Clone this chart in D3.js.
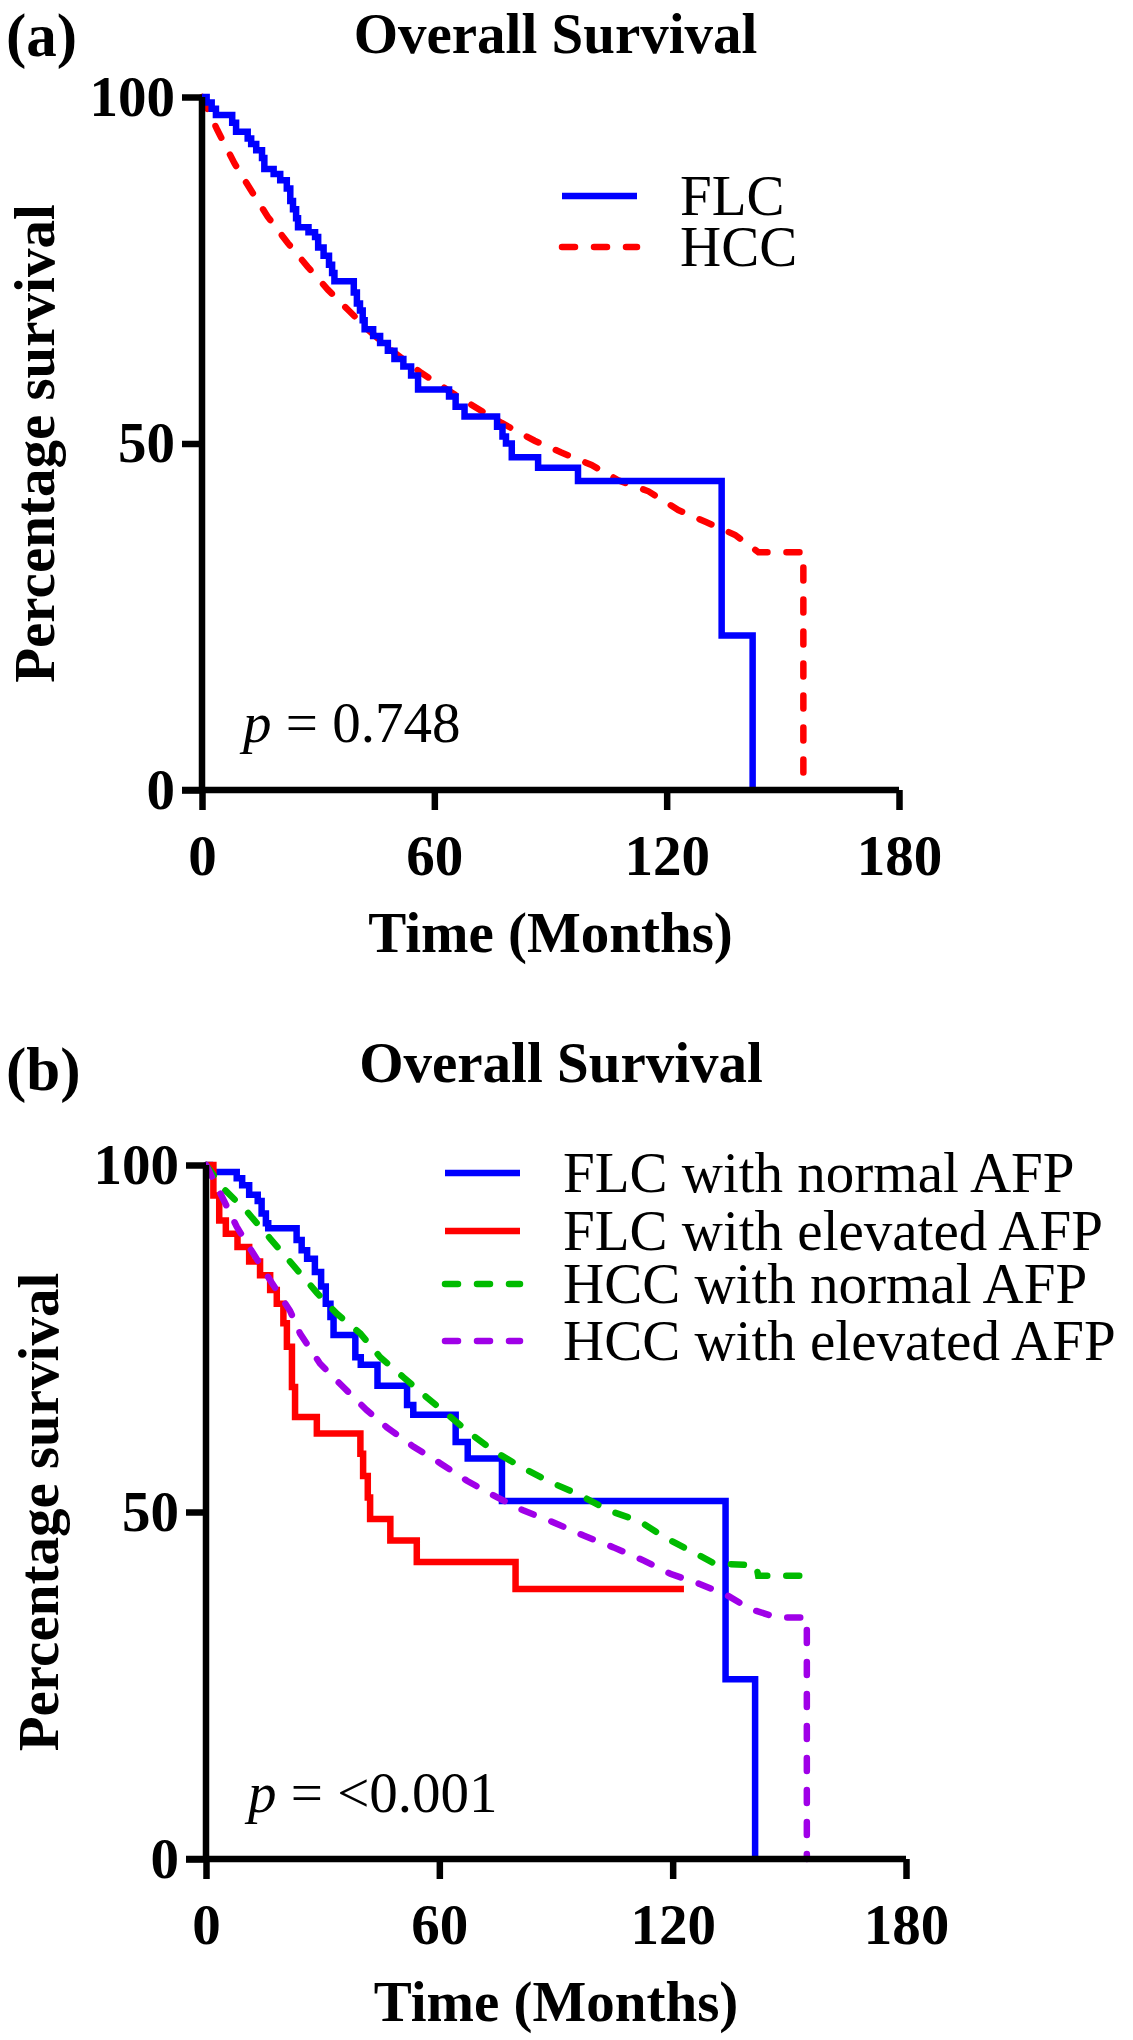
<!DOCTYPE html>
<html>
<head>
<meta charset="utf-8">
<script src="https://cdn.jsdelivr.net/npm/d3@7"></script>
<style>
  html, body { margin: 0; padding: 0; background: #fff; }
  svg { display: block; }
  text { font-family: "Liberation Serif", "Times New Roman", serif; fill: #000; }
</style>
</head>
<body>
<svg id="chart" width="1133" height="2040"></svg>
<script>
// ---------- data ----------
const monthTicks = [0, 60, 120, 180];
const pctTicks = [0, 50, 100];

// Panel (a)
const aNames = ["FLC", "HCC"];
const aPValue = "0.748";
// FLC: Kaplan-Meier step times (months) and survival (%) after each drop
const aFLC_t = [0, 1.2, 2.5, 3.6, 7.8, 8.8, 11.8, 12.7, 14.0, 15.5, 16.1, 18.5, 20.2, 21.9, 22.8, 23.5, 24.3, 24.8, 27.5, 29.2, 30.0, 31.4, 32.8, 33.6, 34.2, 39.2, 40.0, 40.8, 41.5, 42.0, 44.2, 46.0, 48.0, 49.7, 52.0, 54.0, 55.8, 63.8, 65.5, 67.8, 76.2, 77.6, 78.5, 80.0, 86.8, 97.1, 134.2, 142.2];
const aFLC_s = [100, 99.2, 98.3, 97.4, 96.3, 95.0, 94.0, 93.2, 92.3, 91.2, 89.6, 88.9, 88.0, 86.8, 85.0, 83.8, 82.5, 81.2, 80.5, 79.8, 78.3, 77.1, 75.8, 74.6, 73.4, 71.8, 70.2, 69.2, 67.8, 66.5, 65.5, 64.5, 63.4, 62.2, 61.1, 59.8, 57.8, 56.8, 55.3, 53.9, 52.4, 51.0, 50.0, 48.0, 46.5, 44.6, 22.3, 0];
// HCC: points along the (dense-step) curve
const aHCC_t = [0, 4, 8.4, 12.7, 17, 22.2, 27.3, 32.5, 37.7, 42.9, 49.7, 56.6, 63.5, 70.4, 77.3, 85.9, 92.8, 100.6, 107.5, 115.3, 123, 130, 137.7, 143.7, 155.3, 155.3];
const aHCC_s = [100, 95.2, 90.4, 86.5, 82.7, 78.9, 75.5, 72.2, 69.3, 66.4, 63.1, 60.2, 57.7, 55.3, 53.0, 50.4, 48.7, 46.9, 44.7, 43.1, 40.4, 38.7, 36.8, 34.3, 34.3, 0];

// Panel (b)
const bNames = ["FLC with normal AFP", "FLC with elevated AFP", "HCC with normal AFP", "HCC with elevated AFP"];
const bPValue = "<0.001";
const bFLCn_t = [0, 1.0, 7.9, 9.3, 11.1, 13.3, 14.3, 15.4, 16.0, 23.3, 24.6, 26.0, 28.0, 29.6, 30.8, 32.0, 32.8, 38.4, 39.8, 44.1, 51.7, 53.3, 64.2, 67.3, 76.1, 133.6, 141.2];
const bFLCn_s = [100, 99.0, 98.1, 97.1, 95.7, 94.8, 93.0, 91.6, 90.9, 89.2, 87.7, 86.5, 84.6, 82.5, 80.0, 78.1, 75.5, 72.3, 71.2, 68.2, 65.4, 64.0, 60.1, 57.7, 51.6, 25.9, 0];
const bFLCe_t = [0, 1.9, 3.4, 5.1, 8.1, 11.1, 13.9, 16.5, 18.2, 19.9, 20.8, 22.1, 22.9, 28.5, 39.7, 40.4, 41.6, 42.2, 47.4, 54.2, 79.6, 122.9];
const bFLCe_s = [100, 95.6, 92.0, 90.1, 88.2, 86.1, 84.1, 82.0, 80.0, 77.2, 73.8, 68.0, 63.7, 61.3, 58.4, 55.2, 52.1, 49.0, 45.9, 42.8, 38.9, 38.9];
const bHCCn_t = [0, 4.5, 10.5, 16.5, 22.5, 28.5, 33.6, 39.7, 44.8, 50.8, 56.8, 62, 68, 74, 81, 88.6, 96.3, 103.6, 111.4, 117.8, 124.6, 130.7, 141.5, 142, 153];
const bHCCn_s = [100, 96.6, 93.3, 89.4, 85.5, 81.6, 78.6, 75.7, 72.3, 69.4, 66.5, 64.1, 61.3, 58.8, 56.5, 54.3, 52.4, 50.2, 48.7, 46.4, 44.4, 42.6, 42.3, 40.8, 40.8];
const bHCCe_t = [0, 4.5, 7.9, 12.2, 16.5, 21.6, 24.2, 29.3, 35.3, 41.3, 46.5, 53.4, 60.3, 67.1, 74.9, 81.7, 89.4, 97.1, 104.8, 112.6, 119.4, 127.1, 134, 140, 146.9, 154.5, 154.5];
const bHCCe_s = [100, 95, 91.1, 87.2, 83.4, 79, 75.7, 71.4, 68, 64.7, 62.2, 59.4, 57, 54.5, 52.1, 50.2, 48.5, 46.6, 44.9, 43, 41.1, 39.6, 38, 36, 34.8, 34.8, 0];

// ---------- drawing ----------
const svg = d3.select("#chart");
svg.append("rect").attr("width", 1133).attr("height", 2040).attr("fill", "#fff");

const FS = 57;
const LW = 6.5;
const DASH = "13,19";

function zip(t, s) { return t.map((v, i) => [v, s[i]]); }

const panels = [
  {
    letter: "(a)", letterY: 56, titleY: 53,
    x0: 202, x1: 899, y0: 790, y1: 97,
    pText: aPValue, pX: 243, pY: 742,
    legendLineX: [562, 637], legendTextX: 680, legendBase: [215, 266],
    series: [
      { name: aNames[1], data: zip(aHCC_t, aHCC_s), color: "#ff0000", dashed: true, step: false },
      { name: aNames[0], data: zip(aFLC_t, aFLC_s), color: "#0000ff", dashed: false, step: true }
    ],
    legendOrder: [1, 0]
  },
  {
    letter: "(b)", letterY: 1090, titleY: 1082,
    x0: 206, x1: 906, y0: 1859, y1: 1165,
    pText: bPValue, pX: 248, pY: 1812,
    legendLineX: [445, 520], legendTextX: 563, legendBase: [1192, 1250, 1303, 1360],
    series: [
      { name: bNames[0], data: zip(bFLCn_t, bFLCn_s), color: "#0000ff", dashed: false, step: true },
      { name: bNames[1], data: zip(bFLCe_t, bFLCe_s), color: "#ff0000", dashed: false, step: true },
      { name: bNames[2], data: zip(bHCCn_t, bHCCn_s), color: "#00bb00", dashed: true, step: false },
      { name: bNames[3], data: zip(bHCCe_t, bHCCe_s), color: "#a000e8", dashed: true, step: false }
    ],
    legendOrder: [0, 1, 2, 3]
  }
];

panels.forEach(p => {
  const x = d3.scaleLinear().domain([0, 180]).range([p.x0, p.x1]);
  const y = d3.scaleLinear().domain([0, 100]).range([p.y0, p.y1]);
  const g = svg.append("g");

  // letter + title
  g.append("text").attr("x", 6).attr("y", p.letterY)
    .attr("font-size", 61).attr("font-weight", "bold").text(p.letter);
  g.append("text").attr("x", (p.x0 + p.x1) / 2 + 5).attr("y", p.titleY)
    .attr("text-anchor", "middle").attr("font-size", FS).attr("font-weight", "bold")
    .text("Overall Survival");

  // curves
  p.series.forEach(s => {
    const line = d3.line().x(d => x(d[0])).y(d => y(d[1]))
      .curve(s.step ? d3.curveStepAfter : d3.curveLinear);
    g.append("path").datum(s.data).attr("d", line)
      .attr("fill", "none").attr("stroke", s.color).attr("stroke-width", LW)
      .attr("stroke-linejoin", "miter")
      .attr("stroke-linecap", s.dashed ? "round" : "butt")
      .attr("stroke-dasharray", s.dashed ? DASH : null);
  });

  // axes
  const xAxis = d3.axisBottom(x).tickValues(monthTicks).tickSize(20).tickPadding(28).tickFormat(d3.format("d"));
  const yAxis = d3.axisLeft(y).tickValues(pctTicks).tickSize(20).tickPadding(7).tickFormat(d3.format("d"));
  const gx = g.append("g").attr("transform", `translate(0,${p.y0})`).call(xAxis);
  const gy = g.append("g").attr("transform", `translate(${p.x0},0)`).call(yAxis);
  [gx, gy].forEach(ax => {
    ax.select(".domain").attr("stroke", "#000").attr("stroke-width", LW);
    ax.selectAll(".tick line").attr("stroke", "#000").attr("stroke-width", LW);
    ax.selectAll(".tick text").attr("font-size", FS).attr("font-weight", "bold")
      .attr("font-family", "Liberation Serif, Times New Roman, serif").attr("fill", "#000");
  });
  gx.select(".domain").attr("d", `M${p.x0 - 20},0H${p.x1}`);
  gy.select(".domain").attr("d", `M0,${p.y1}V${p.y0}`);
  gx.selectAll(".tick text").attr("dy", null).attr("y", 85);

  // axis titles
  g.append("text").attr("x", (p.x0 + p.x1) / 2).attr("y", p.y0 + 162)
    .attr("text-anchor", "middle").attr("font-size", FS).attr("font-weight", "bold")
    .text("Time (Months)");
  g.append("text")
    .attr("transform", `translate(${p.x0 - 148},${(p.y0 + p.y1) / 2}) rotate(-90)`)
    .attr("text-anchor", "middle").attr("font-size", FS).attr("font-weight", "bold")
    .text("Percentage survival");

  // p value
  const pt = g.append("text").attr("x", p.pX).attr("y", p.pY).attr("font-size", FS);
  pt.append("tspan").attr("font-style", "italic").text("p");
  pt.append("tspan").text(" = " + p.pText);

  // legend
  p.legendOrder.forEach((si, i) => {
    const s = p.series[si];
    const base = p.legendBase[i];
    g.append("line").attr("x1", p.legendLineX[0]).attr("x2", p.legendLineX[1])
      .attr("y1", base - 19).attr("y2", base - 19)
      .attr("stroke", s.color).attr("stroke-width", LW)
      .attr("stroke-linecap", s.dashed ? "round" : "butt")
      .attr("stroke-dasharray", s.dashed ? DASH : null);
    g.append("text").attr("x", p.legendTextX).attr("y", base)
      .attr("font-size", FS).text(s.name);
  });
});
</script>
</body>
</html>
